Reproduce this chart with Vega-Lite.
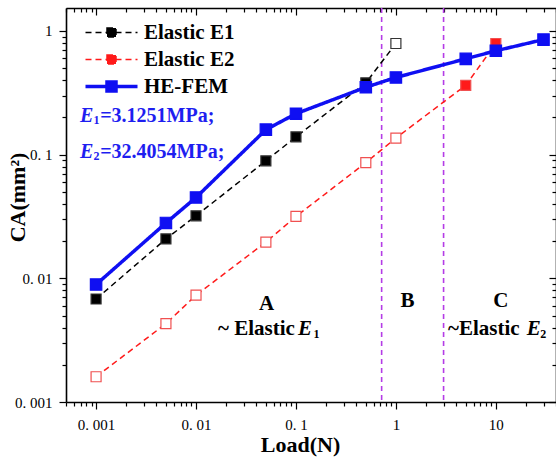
{
  "$schema": "https://vega.github.io/schema/vega-lite/v6.json",
  "width": 490,
  "height": 394,
  "autosize": {"type": "none"},
  "padding": {"left": 66, "top": 8, "right": 0, "bottom": 61},
  "background": "white",
  "config": {
    "view": {"stroke": null},
    "axis": {
      "grid": false,
      "domainColor": "#000000",
      "domainWidth": 1.6,
      "tickColor": "#000000",
      "tickWidth": 1.2,
      "labelFont": "Liberation Serif",
      "labelFontSize": 15,
      "labelColor": "#000000",
      "labelOverlap": false,
      "labelFlush": false,
      "labelBound": false,
      "titleFont": "Liberation Serif",
      "titleFontSize": 22,
      "titleFontWeight": "bold",
      "titleColor": "#000000"
    },
    "text": {"font": "Liberation Serif"}
  },
  "datasets": {
    "pts": [
      {"series": "Elastic E1", "load": 0.001, "ca": 0.0068, "filled": true},
      {"series": "Elastic E1", "load": 0.005, "ca": 0.0208, "filled": true},
      {"series": "Elastic E1", "load": 0.01, "ca": 0.032, "filled": true},
      {"series": "Elastic E1", "load": 0.05, "ca": 0.089, "filled": true},
      {"series": "Elastic E1", "load": 0.1, "ca": 0.139, "filled": true},
      {"series": "Elastic E1", "load": 0.5, "ca": 0.38, "filled": true},
      {"series": "Elastic E1", "load": 1, "ca": 0.79, "filled": false},
      {"series": "Elastic E2", "load": 0.001, "ca": 0.0016, "filled": false},
      {"series": "Elastic E2", "load": 0.005, "ca": 0.0043, "filled": false},
      {"series": "Elastic E2", "load": 0.01, "ca": 0.0073, "filled": false},
      {"series": "Elastic E2", "load": 0.05, "ca": 0.0196, "filled": false},
      {"series": "Elastic E2", "load": 0.1, "ca": 0.0316, "filled": false},
      {"series": "Elastic E2", "load": 0.5, "ca": 0.086, "filled": false},
      {"series": "Elastic E2", "load": 1, "ca": 0.136, "filled": false},
      {"series": "Elastic E2", "load": 5, "ca": 0.363, "filled": true},
      {"series": "Elastic E2", "load": 10, "ca": 0.79, "filled": true},
      {"series": "HE-FEM", "load": 0.001, "ca": 0.0089, "filled": true},
      {"series": "HE-FEM", "load": 0.005, "ca": 0.028, "filled": true},
      {"series": "HE-FEM", "load": 0.01, "ca": 0.045, "filled": true},
      {"series": "HE-FEM", "load": 0.05, "ca": 0.159, "filled": true},
      {"series": "HE-FEM", "load": 0.1, "ca": 0.214, "filled": true},
      {"series": "HE-FEM", "load": 0.5, "ca": 0.35, "filled": true},
      {"series": "HE-FEM", "load": 1, "ca": 0.42, "filled": true},
      {"series": "HE-FEM", "load": 5, "ca": 0.594, "filled": true},
      {"series": "HE-FEM", "load": 10, "ca": 0.69, "filled": true},
      {"series": "HE-FEM", "load": 30, "ca": 0.85, "filled": true}
    ],
    "vlines": [{"load": 0.72}, {"load": 3}],
    "notes": [
      {"group": "blueE", "x": 0.000692, "y": 0.185, "text": "E"},
      {"group": "blueE", "x": 0.000692, "y": 0.0946, "text": "E"},
      {"group": "blueSub", "x": 0.000944, "y": 0.177, "text": "1"},
      {"group": "blueSub", "x": 0.000944, "y": 0.0906, "text": "2"},
      {"group": "blueText", "x": 0.0011, "y": 0.185, "text": "=3.1251MPa;"},
      {"group": "blueText", "x": 0.0011, "y": 0.0946, "text": "=32.4054MPa;"},
      {"group": "region", "x": 0.0509, "y": 0.00557, "text": "A"},
      {"group": "region", "x": 1.31, "y": 0.0059, "text": "B"},
      {"group": "region", "x": 11.2, "y": 0.0059, "text": "C"},
      {"group": "regionText", "x": 0.0166, "y": 0.0035, "text": "~ Elastic"},
      {"group": "regionText", "x": 3.33, "y": 0.0035, "text": "~Elastic"},
      {"group": "regionE", "x": 0.1047, "y": 0.0035, "text": "E"},
      {"group": "regionE", "x": 20.4, "y": 0.0035, "text": "E"},
      {"group": "regionSub", "x": 0.1496, "y": 0.0033, "text": "1"},
      {"group": "regionSub", "x": 27.9, "y": 0.0033, "text": "2"}
    ]
  },
  "layer": [
    {
      "data": {"name": "vlines"},
      "mark": {"type": "rule", "color": "#B43CE6", "strokeDash": [5, 4], "strokeWidth": 1.6},
      "encoding": {
        "x": {"field": "load", "type": "quantitative", "scale": {"type": "log", "domain": [0.0005, 40], "nice": false}, "axis": null}
      }
    },
    {
      "data": {"name": "pts"},
      "mark": {"type": "line"},
      "encoding": {
        "x": {
          "field": "load", "type": "quantitative",
          "scale": {"type": "log", "domain": [0.0005, 40], "nice": false},
          "axis": {
            "orient": "bottom",
            "title": "Load(N)",
            "titleX": 234, "titleY": 42, "titleAlign": "center", "titleBaseline": "middle",
            "values": [0.0005,0.0006,0.0007,0.0008,0.0009,0.001,0.002,0.003,0.004,0.005,0.006,0.007,0.008,0.009,0.01,0.02,0.03,0.04,0.05,0.06,0.07,0.08,0.09,0.1,0.2,0.3,0.4,0.5,0.6,0.7,0.8,0.9,1,2,3,4,5,6,7,8,9,10,20,30,40],
            "tickSize": {"condition": {"test": "abs(log(datum.value)/LN10 - round(log(datum.value)/LN10)) < 0.001", "value": 7}, "value": 4},
            "labelPadding": 8,
            "labelExpr": "abs(log(datum.value)/LN10 - round(log(datum.value)/LN10)) < 0.001 ? replace(format(datum.value, '~g'), '.', '. ') : ''"
          }
        },
        "y": {
          "field": "ca", "type": "quantitative",
          "scale": {"type": "log", "domain": [0.001, 1.53], "nice": false},
          "axis": {
            "orient": "left",
            "title": "CA(mm²)",
            "titleX": -49, "titleY": 189, "titleAlign": "center", "titleBaseline": "middle", "titleAngle": -90,
            "values": [0.001,0.002,0.003,0.004,0.005,0.006,0.007,0.008,0.009,0.01,0.02,0.03,0.04,0.05,0.06,0.07,0.08,0.09,0.1,0.2,0.3,0.4,0.5,0.6,0.7,0.8,0.9,1],
            "tickSize": {"condition": {"test": "abs(log(datum.value)/LN10 - round(log(datum.value)/LN10)) < 0.001", "value": 7}, "value": 4},
            "labelPadding": 7,
            "labelExpr": "abs(log(datum.value)/LN10 - round(log(datum.value)/LN10)) < 0.001 ? replace(format(datum.value, '~g'), '.', '. ') : ''"
          }
        },
        "order": {"field": "load", "type": "quantitative"},
        "color": {
          "field": "series", "type": "nominal",
          "scale": {"domain": ["Elastic E1", "Elastic E2", "HE-FEM"], "range": ["#000000", "#FF1A1A", "#0F0FF2"]},
          "legend": {
            "orient": "none", "legendX": 35, "legendY": 14, "title": null,
            "symbolType": "M-2.6,0H2.6M-0.45,-0.45H0.45V0.45H-0.45Z",
            "symbolSize": 400,
            "labelFont": "Liberation Serif", "labelFontSize": 21, "labelFontWeight": "bold", "labelColor": "#000000",
            "labelOffset": 22, "rowPadding": 5, "padding": 0,
            "encode": {
              "symbols": {
                "update": {
                  "fill": {"scale": "color", "field": "value"},
                  "stroke": {"scale": "color", "field": "value"},
                  "strokeDash": {"signal": "datum.value === 'HE-FEM' ? [] : [6, 4]"},
                  "strokeWidth": {"signal": "datum.value === 'HE-FEM' ? 3.5 : 1.5"}
                }
              }
            }
          }
        },
        "strokeWidth": {"condition": {"test": "datum.series === 'HE-FEM'", "value": 3.5}, "value": 1.5},
        "strokeDash": {"condition": {"test": "datum.series === 'HE-FEM'", "value": [1, 0]}, "value": [6, 4]}
      }
    },
    {
      "data": {"name": "pts"},
      "mark": {"type": "point", "shape": "square", "filled": true, "opacity": 1, "strokeWidth": 1.2},
      "encoding": {
        "x": {
          "field": "load", "type": "quantitative",
          "scale": {"type": "log", "domain": [0.0005, 40], "nice": false},
          "axis": {
            "orient": "top", "title": null, "labels": false,
            "values": [0.0005,0.0006,0.0007,0.0008,0.0009,0.001,0.002,0.003,0.004,0.005,0.006,0.007,0.008,0.009,0.01,0.02,0.03,0.04,0.05,0.06,0.07,0.08,0.09,0.1,0.2,0.3,0.4,0.5,0.6,0.7,0.8,0.9,1,2,3,4,5,6,7,8,9,10,20,30,40],
            "tickSize": {"condition": {"test": "abs(log(datum.value)/LN10 - round(log(datum.value)/LN10)) < 0.001", "value": -7}, "value": -4}
          }
        },
        "y": {
          "field": "ca", "type": "quantitative",
          "scale": {"type": "log", "domain": [0.001, 1.53], "nice": false},
          "axis": {
            "orient": "right", "title": null, "labels": false,
            "values": [0.001,0.002,0.003,0.004,0.005,0.006,0.007,0.008,0.009,0.01,0.02,0.03,0.04,0.05,0.06,0.07,0.08,0.09,0.1,0.2,0.3,0.4,0.5,0.6,0.7,0.8,0.9,1],
            "tickSize": {"condition": {"test": "abs(log(datum.value)/LN10 - round(log(datum.value)/LN10)) < 0.001", "value": -7}, "value": -4}
          }
        },
        "size": {"condition": {"test": "datum.series === 'HE-FEM'", "value": 130}, "value": 100},
        "fill": {
          "condition": {"test": "datum.filled", "field": "series", "type": "nominal", "scale": {"domain": ["Elastic E1", "Elastic E2", "HE-FEM"], "range": ["#000000", "#FF1A1A", "#0F0FF2"]}, "legend": null},
          "value": "white"
        },
        "stroke": {"field": "series", "type": "nominal", "scale": {"domain": ["Elastic E1", "Elastic E2", "HE-FEM"], "range": ["#333333", "#F05050", "#0F0FF2"]}, "legend": null}
      }
    },
    {
      "data": {"name": "notes"},
      "transform": [{"filter": "datum.group === 'blueE'"}],
      "mark": {"type": "text", "align": "left", "baseline": "alphabetic", "fontSize": 20, "fontWeight": "bold", "fontStyle": "italic", "color": "#1E1EF0"},
      "encoding": {
        "x": {"field": "x", "type": "quantitative", "scale": {"type": "log", "domain": [0.0005, 40], "nice": false}, "axis": null},
        "y": {"field": "y", "type": "quantitative", "scale": {"type": "log", "domain": [0.001, 1.53], "nice": false}, "axis": null},
        "text": {"field": "text"}
      }
    },
    {
      "data": {"name": "notes"},
      "transform": [{"filter": "datum.group === 'blueSub'"}],
      "mark": {"type": "text", "align": "left", "baseline": "alphabetic", "fontSize": 12, "fontWeight": "bold", "color": "#1E1EF0"},
      "encoding": {
        "x": {"field": "x", "type": "quantitative", "scale": {"type": "log", "domain": [0.0005, 40], "nice": false}, "axis": null},
        "y": {"field": "y", "type": "quantitative", "scale": {"type": "log", "domain": [0.001, 1.53], "nice": false}, "axis": null},
        "text": {"field": "text"}
      }
    },
    {
      "data": {"name": "notes"},
      "transform": [{"filter": "datum.group === 'blueText'"}],
      "mark": {"type": "text", "align": "left", "baseline": "alphabetic", "fontSize": 20, "fontWeight": "bold", "color": "#1E1EF0"},
      "encoding": {
        "x": {"field": "x", "type": "quantitative", "scale": {"type": "log", "domain": [0.0005, 40], "nice": false}, "axis": null},
        "y": {"field": "y", "type": "quantitative", "scale": {"type": "log", "domain": [0.001, 1.53], "nice": false}, "axis": null},
        "text": {"field": "text"}
      }
    },
    {
      "data": {"name": "notes"},
      "transform": [{"filter": "datum.group === 'region'"}],
      "mark": {"type": "text", "align": "center", "baseline": "alphabetic", "fontSize": 21, "fontWeight": "bold", "color": "#000000"},
      "encoding": {
        "x": {"field": "x", "type": "quantitative", "scale": {"type": "log", "domain": [0.0005, 40], "nice": false}, "axis": null},
        "y": {"field": "y", "type": "quantitative", "scale": {"type": "log", "domain": [0.001, 1.53], "nice": false}, "axis": null},
        "text": {"field": "text"}
      }
    },
    {
      "data": {"name": "notes"},
      "transform": [{"filter": "datum.group === 'regionText'"}],
      "mark": {"type": "text", "align": "left", "baseline": "alphabetic", "fontSize": 21, "fontWeight": "bold", "color": "#000000"},
      "encoding": {
        "x": {"field": "x", "type": "quantitative", "scale": {"type": "log", "domain": [0.0005, 40], "nice": false}, "axis": null},
        "y": {"field": "y", "type": "quantitative", "scale": {"type": "log", "domain": [0.001, 1.53], "nice": false}, "axis": null},
        "text": {"field": "text"}
      }
    },
    {
      "data": {"name": "notes"},
      "transform": [{"filter": "datum.group === 'regionE'"}],
      "mark": {"type": "text", "align": "left", "baseline": "alphabetic", "fontSize": 21, "fontWeight": "bold", "fontStyle": "italic", "color": "#000000"},
      "encoding": {
        "x": {"field": "x", "type": "quantitative", "scale": {"type": "log", "domain": [0.0005, 40], "nice": false}, "axis": null},
        "y": {"field": "y", "type": "quantitative", "scale": {"type": "log", "domain": [0.001, 1.53], "nice": false}, "axis": null},
        "text": {"field": "text"}
      }
    },
    {
      "data": {"name": "notes"},
      "transform": [{"filter": "datum.group === 'regionSub'"}],
      "mark": {"type": "text", "align": "left", "baseline": "alphabetic", "fontSize": 12, "fontWeight": "bold", "color": "#000000"},
      "encoding": {
        "x": {"field": "x", "type": "quantitative", "scale": {"type": "log", "domain": [0.0005, 40], "nice": false}, "axis": null},
        "y": {"field": "y", "type": "quantitative", "scale": {"type": "log", "domain": [0.001, 1.53], "nice": false}, "axis": null},
        "text": {"field": "text"}
      }
    }
  ],
  "resolve": {"axis": {"x": "independent", "y": "independent"}}
}
